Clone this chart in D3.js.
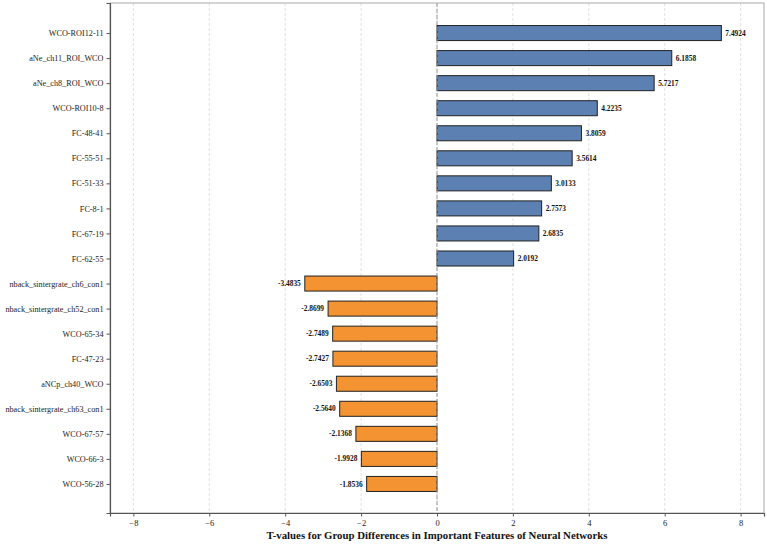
<!DOCTYPE html>
<html>
<head>
<meta charset="utf-8">
<script src="https://cdn.jsdelivr.net/npm/d3@7"></script>
<style>
  body { margin: 0; background: #fff; }
  svg text { font-family: "Liberation Serif", "Times New Roman", serif !important; }
</style>
</head>
<body>
<div id="chart"></div>
<script>
var features = ["WCO-ROI12-11", "aNe_ch11_ROI_WCO", "aNe_ch8_ROI_WCO", "WCO-ROI10-8", "FC-48-41",
  "FC-55-51", "FC-51-33", "FC-8-1", "FC-67-19", "FC-62-55",
  "nback_sintergrate_ch6_con1", "nback_sintergrate_ch52_con1", "WCO-65-34", "FC-47-23",
  "aNCp_ch40_WCO", "nback_sintergrate_ch63_con1", "WCO-67-57", "WCO-66-3", "WCO-56-28"];
var tValues = [7.4924, 6.1858, 5.7217, 4.2235, 3.8059, 3.5614, 3.0133, 2.7573, 2.6835, 2.0192,
  -3.4835, -2.8699, -2.7489, -2.7427, -2.6503, -2.5640, -2.1368, -1.9928, -1.8536];
var xTicks = [-8, -6, -4, -2, 0, 2, 4, 6, 8];

var margin = {top: 3, right: 3, bottom: 31, left: 110};
var width = 767 - margin.left - margin.right;
var height = 544 - margin.top - margin.bottom;

var svg = d3.select("#chart").append("svg")
    .attr("width", 767)
    .attr("height", 544);
var g = svg.append("g").attr("transform", "translate(" + margin.left + "," + margin.top + ")");

var xMax = d3.max(tValues, function (d) { return Math.abs(d); }) * 1.15;
var x = d3.scaleLinear().domain([-xMax, xMax]).range([0, width]);
// index scale, padded like matplotlib barh
var y = d3.scaleLinear().domain([-1.2, features.length - 1 + 1.16]).range([0, height]);
var barH = 0.6 * (y(1) - y(0));

// grid
g.selectAll("line.grid").data(xTicks).enter().append("line")
    .attr("class", "grid")
    .attr("x1", function (d) { return x(d); })
    .attr("x2", function (d) { return x(d); })
    .attr("y1", 0).attr("y2", height)
    .attr("stroke", "#d9d9d9")
    .attr("stroke-width", 0.8)
    .attr("stroke-dasharray", "3,2");

var data = features.map(function (f, i) { return {name: f, value: tValues[i], i: i}; });

g.selectAll("rect.bar").data(data).enter().append("rect")
    .attr("class", "bar")
    .attr("x", function (d) { return x(Math.min(0, d.value)); })
    .attr("y", function (d) { return y(d.i) - barH / 2; })
    .attr("width", function (d) { return Math.abs(x(d.value) - x(0)); })
    .attr("height", barH)
    .attr("fill", function (d) { return d.value >= 0 ? "#5b80b1" : "#f39332"; })
    .attr("stroke", "#222")
    .attr("stroke-width", 1);

// zero line
g.append("line")
    .attr("x1", x(0)).attr("x2", x(0))
    .attr("y1", 0).attr("y2", height)
    .attr("stroke", "#999")
    .attr("stroke-width", 1)
    .attr("stroke-dasharray", "4,2");

g.selectAll("text.val").data(data).enter().append("text")
    .attr("class", "val")
    .attr("x", function (d) { return d.value >= 0 ? x(d.value) + 4 : x(d.value) - 4; })
    .attr("y", function (d) { return y(d.i); })
    .attr("dy", "0.35em")
    .attr("text-anchor", function (d) { return d.value >= 0 ? "start" : "end"; })
    .style("font-size", "7.4px")
    .attr("font-weight", "bold")
    .attr("fill", "#111")
    .text(function (d) { return d.value.toFixed(4); });

// frame
g.append("rect")
    .attr("width", width).attr("height", height)
    .attr("fill", "none")
    .attr("stroke", "#aaa")
    .attr("stroke-width", 1);

// y axis
var yAxis = g.append("g").call(d3.axisLeft(y).tickValues(d3.range(features.length))
    .tickFormat(function (i) { return features[i]; }).tickSize(3.5).tickPadding(3));
yAxis.attr("font-family", null);
yAxis.select(".domain").attr("stroke", "#555").attr("stroke-width", 1.2);
yAxis.selectAll(".tick line").attr("stroke", "#555");
yAxis.selectAll(".tick text").style("font-size", "8.2px").attr("fill", "#222");

// x axis
var xAxis = g.append("g").attr("transform", "translate(0," + height + ")")
    .call(d3.axisBottom(x).tickValues(xTicks).tickSize(3.5).tickPadding(3)
      .tickFormat(function (d) { return d < 0 ? "\u2212" + Math.abs(d) : d; }));
xAxis.attr("font-family", null);
xAxis.select(".domain").attr("stroke", "#555").attr("stroke-width", 1.2);
xAxis.selectAll(".tick line").attr("stroke", "#555");
xAxis.selectAll(".tick text").style("font-size", "8.5px").attr("fill", "#222");

svg.append("text")
    .attr("x", margin.left + width / 2)
    .attr("y", 539)
    .attr("text-anchor", "middle")
    .style("font-size", "10.8px")
    .attr("font-weight", "bold")
    .attr("fill", "#111")
    .text("T-values for Group Differences in Important Features of Neural Networks");
</script>
</body>
</html>
